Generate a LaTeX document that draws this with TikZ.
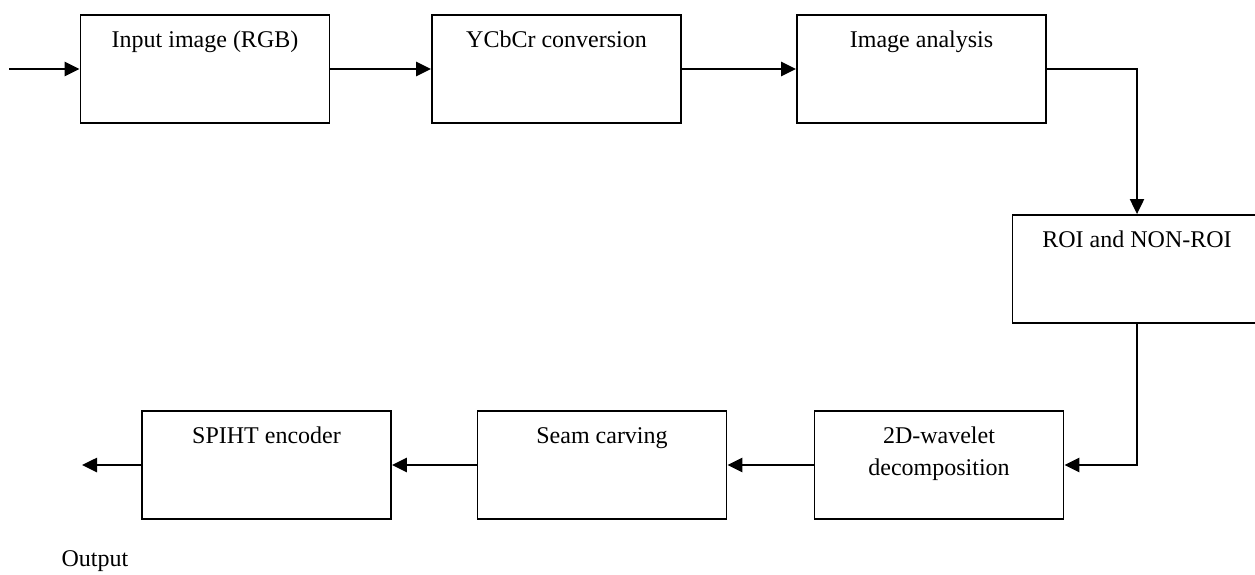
\documentclass[tikz,border=0pt]{standalone}
\usepackage{fontspec}
\setmainfont{Liberation Serif}
\usetikzlibrary{arrows.meta, positioning}
\tikzset{
  blk/.style={draw, line width=1.8pt, minimum width=249pt, minimum height=108pt, inner sep=0pt},
  lbl/.style={anchor=base, align=center, font=\fontsize{24}{32}\selectfont, inner sep=0pt},
  flow/.style={->, line width=2.6pt},
  >={Triangle[length=15pt,width=14pt]}
}
\begin{document}
\begin{tikzpicture}[x=1pt, y=-1pt]
      \useasboundingbox (0,0) rectangle (1255,574);

      \node[blk] (rgb) at (205,69) {};
      \node[blk] (ycc) at (556.5,69) {};
      \node[blk] (ana) at (921.5,69) {};
      \node[blk] (roi) at (1137,269) {};
      \node[blk] (dwt) at (939,465) {};
      \node[blk] (seam) at (602,465) {};
      \node[blk] (spiht) at (266.5,465) {};

      \node[lbl] (rgbT) at ([yshift=-33pt]rgb.north) {Input image (RGB)};
      \node[lbl] (yccT) at ([yshift=-33pt]ycc.north) {YCbCr conversion};
      \node[lbl] (anaT) at ([yshift=-33pt]ana.north) {Image analysis};
      \node[lbl] (roiT) at ([yshift=-33pt]roi.north) {ROI and NON-ROI};
      \node[lbl] (dwtT) at ([yshift=-65pt]dwt.north) {2D-wavelet\\decomposition};
      \node[lbl] (seamT) at ([yshift=-33pt]seam.north) {Seam carving};
      \node[lbl] (spihtT) at ([yshift=-33pt]spiht.north) {SPIHT encoder};
      \node[lbl] (outT) at (95,566) {Output};

      \coordinate (in) at (9,69);
      \coordinate (out) at (82,465);

      \draw[flow] (in) -- (rgb.west);
      \draw[flow] (rgb.east) -- (ycc.west);
      \draw[flow] (ycc.east) -- (ana.west);
      \draw[flow, line width=2pt] (ana.east) -| (roi.north);
      \draw[flow] (roi.south) |- (dwt.east);
      \draw[flow] (dwt.west) -- (seam.east);
      \draw[flow] (seam.west) -- (spiht.east);
      \draw[flow] (spiht.west) -- (out);

    \end{tikzpicture}
\end{document}
